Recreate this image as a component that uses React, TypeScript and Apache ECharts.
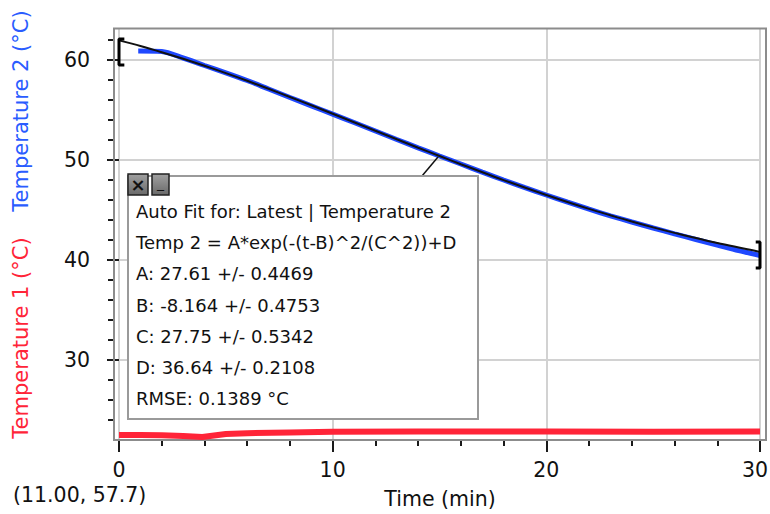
import React, { useEffect, useRef } from 'react';
import * as echarts from 'echarts';

// Temperature 2 (measured, blue)
const temp2Time = [0.9, 2, 3, 4, 5, 6, 7, 8, 9, 10, 11, 12, 13, 14, 15, 16, 17, 18, 19, 20, 21, 22, 23, 24, 25, 26, 27, 28, 29, 30];
const temp2Values = [60.9, 60.85, 60.2, 59.45, 58.72, 57.95, 57.1, 56.25, 55.42, 54.58, 53.75, 52.9, 52.05, 51.22, 50.4, 49.6, 48.78, 48.0, 47.24, 46.5, 45.78, 45.08, 44.42, 43.8, 43.2, 42.62, 42.05, 41.5, 40.95, 40.45];
// Auto fit curve (black)
const fitTime = [0, 1, 2, 3, 4, 5, 6, 7, 8, 9, 10, 12, 14, 15, 16, 18, 20, 22, 24, 25, 26, 28, 30];
const fitValues = [61.96, 61.4, 60.78, 60.12, 59.42, 58.69, 57.92, 57.12, 56.3, 55.47, 54.63, 52.92, 51.23, 50.4, 49.58, 47.99, 46.5, 45.11, 43.85, 43.26, 42.71, 41.69, 40.81];
// Temperature 1 (red)
const temp1Time = [0, 1, 2, 3, 3.9, 5, 6, 8, 10, 14, 20, 25, 30];
const temp1Values = [22.5, 22.5, 22.48, 22.4, 22.3, 22.6, 22.68, 22.76, 22.82, 22.84, 22.84, 22.83, 22.84];
// Fit range brackets
const bracketStart = [[0.25, 62.1], [0, 62.1], [0, 59.5], [0.25, 59.5]];
const bracketEnd = [[29.8, 41.8], [30, 41.8], [30, 39.2], [29.8, 39.2]];

const yMajorTicks = [30, 40, 50, 60];
const yMinorTicks = [24, 26, 28, 32, 34, 36, 38, 42, 44, 46, 48, 52, 54, 56, 58, 62];

const boxLines = [
  'Auto Fit for: Latest | Temperature 2',
  'Temp 2 = A*exp(-(t-B)^2/(C^2))+D',
  'A: 27.61 +/- 0.4469',
  'B: -8.164 +/- 0.4753',
  'C: 27.75 +/- 0.5342',
  'D: 36.64 +/- 0.2108',
  'RMSE: 0.1389 °C',
];

const FONT = 'DejaVu Sans';
const BLUE = '#1f48ff';
const TITLE_BLUE = '#2a5cff';
const RED = '#ff2438';

const zip = (a: number[], b: number[]) => a.map((v, i) => [v, b[i]]);

export default function App() {
  const ref = useRef<HTMLDivElement>(null);
  useEffect(() => {
    if (!ref.current) return;
    const chart = echarts.init(ref.current, null, { renderer: 'svg' });
    const tickStyle = { color: '#1a1a1a', width: 2 };
    const option: any = {
      animation: false,
      backgroundColor: '#fff',
      grid: { left: 119, right: 10, top: 28, bottom: 74, containLabel: false, outerBoundsMode: 'none' },
      xAxis: {
        type: 'value',
        min: 0,
        max: 30,
        interval: 10,
        axisLine: { show: false },
        axisTick: { show: true, length: 12, lineStyle: tickStyle },
        minorTick: { show: true, splitNumber: 5, length: 6, lineStyle: tickStyle },
        axisLabel: {
          fontFamily: FONT,
          fontSize: 20.5,
          color: '#111',
          margin: 19,
          hideOverlap: false,
          formatter: (v: number) => (v === 30 ? '{r|30}' : String(v)),
          rich: { r: { fontFamily: FONT, fontSize: 20.5, color: '#111', padding: [0, 10, 0, 0] } },
        },
        splitLine: { show: true, lineStyle: { color: '#d2d2d2', width: 2 } },
      },
      yAxis: [
        {
          type: 'value',
          min: 22,
          max: 63.2,
          position: 'left',
          offset: 5,
          axisLine: { show: false },
          axisTick: { show: true, length: 12, lineStyle: tickStyle, customValues: yMajorTicks },
          axisLabel: { fontFamily: FONT, fontSize: 20.5, color: '#111', margin: 24, customValues: yMajorTicks },
          splitLine: { show: true, lineStyle: { color: '#d2d2d2', width: 2 } },
        },
        {
          type: 'value',
          min: 22,
          max: 63.2,
          position: 'left',
          offset: 5,
          axisLine: { show: false },
          axisTick: { show: true, length: 6, lineStyle: tickStyle, customValues: yMinorTicks },
          axisLabel: { show: false },
          splitLine: { show: false },
        },
      ],
      series: [
        {
          name: 'Temperature 1',
          type: 'line',
          data: zip(temp1Time, temp1Values),
          showSymbol: false,
          lineStyle: { color: RED, width: 6 },
          z: 3,
        },
        {
          name: 'Temperature 2',
          type: 'line',
          data: zip(temp2Time, temp2Values),
          showSymbol: false,
          smooth: 0.3,
          lineStyle: { color: BLUE, width: 5 },
          z: 3,
        },
        {
          name: 'Fit',
          type: 'line',
          data: zip(fitTime, fitValues),
          showSymbol: false,
          smooth: 0.3,
          lineStyle: { color: '#111', width: 2 },
          z: 4,
        },
        {
          name: 'Start',
          type: 'line',
          data: bracketStart,
          showSymbol: false,
          clip: false,
          lineStyle: { color: '#000', width: 3 },
          z: 5,
        },
        {
          name: 'End',
          type: 'line',
          data: bracketEnd,
          showSymbol: false,
          clip: false,
          lineStyle: { color: '#000', width: 3 },
          z: 5,
        },
      ],
      graphic: [
        {
          type: 'rect',
          shape: { x: 114, y: 28.5, width: 652, height: 411.5 },
          style: { fill: 'none', stroke: '#8c8c8c', lineWidth: 2 },
          z: 1,
        },
        {
          type: 'text',
          x: 21,
          y: 111,
          rotation: Math.PI / 2,
          style: { text: 'Temperature 2 (°C)', fill: TITLE_BLUE, font: `21px "${FONT}"`, textAlign: 'center', textVerticalAlign: 'middle' },
        },
        {
          type: 'text',
          x: 21,
          y: 338,
          rotation: Math.PI / 2,
          style: { text: 'Temperature 1 (°C)', fill: RED, font: `21px "${FONT}"`, textAlign: 'center', textVerticalAlign: 'middle' },
        },
        {
          type: 'text',
          x: 440,
          y: 499,
          style: { text: 'Time (min)', fill: '#111', font: `20.5px "${FONT}"`, textAlign: 'center', textVerticalAlign: 'middle' },
        },
        {
          type: 'text',
          x: 13,
          y: 495,
          style: { text: '(11.00, 57.7)', fill: '#111', font: `20.5px "${FONT}"`, textAlign: 'left', textVerticalAlign: 'middle' },
        },
        {
          type: 'line',
          shape: { x1: 422, y1: 176, x2: 438, y2: 157 },
          style: { stroke: '#111', lineWidth: 1.5 },
          z: 10,
        },
        {
          type: 'rect',
          shape: { x: 128, y: 176, width: 350, height: 243 },
          style: { fill: '#fff', stroke: '#9a9a9a', lineWidth: 2 },
          z: 10,
        },
        {
          type: 'rect',
          shape: { x: 128, y: 174, width: 20, height: 21 },
          style: {
            fill: new echarts.graphic.LinearGradient(0, 0, 0, 1, [
              { offset: 0, color: '#a0a0a0' },
              { offset: 1, color: '#6a6a6a' },
            ]),
            stroke: '#222',
            lineWidth: 1.5,
          },
          z: 11,
        },
        {
          type: 'text',
          x: 138,
          y: 184.5,
          style: { text: '×', fill: '#111', font: `bold 18px "${FONT}"`, textAlign: 'center', textVerticalAlign: 'middle' },
          z: 12,
        },
        {
          type: 'rect',
          shape: { x: 152, y: 174, width: 17, height: 21 },
          style: {
            fill: new echarts.graphic.LinearGradient(0, 0, 0, 1, [
              { offset: 0, color: '#a0a0a0' },
              { offset: 1, color: '#6a6a6a' },
            ]),
            stroke: '#222',
            lineWidth: 1.5,
          },
          z: 11,
        },
        {
          type: 'text',
          x: 160.5,
          y: 183,
          style: { text: '_', fill: '#111', font: `14px "${FONT}"`, textAlign: 'center', textVerticalAlign: 'middle' },
          z: 12,
        },
        ...boxLines.map((t, i) => ({
          type: 'text',
          x: 136,
          y: 211.7 + i * 31.1,
          style: { text: t, fill: '#111', font: `18px "${FONT}"`, textAlign: 'left', textVerticalAlign: 'middle' },
          z: 12,
        })),
      ],
    };
    chart.setOption(option);
    return () => chart.dispose();
  }, []);
  return <div ref={ref} style={{ width: 770, height: 514, position: 'absolute', left: 0, top: 0 }} />;
}
